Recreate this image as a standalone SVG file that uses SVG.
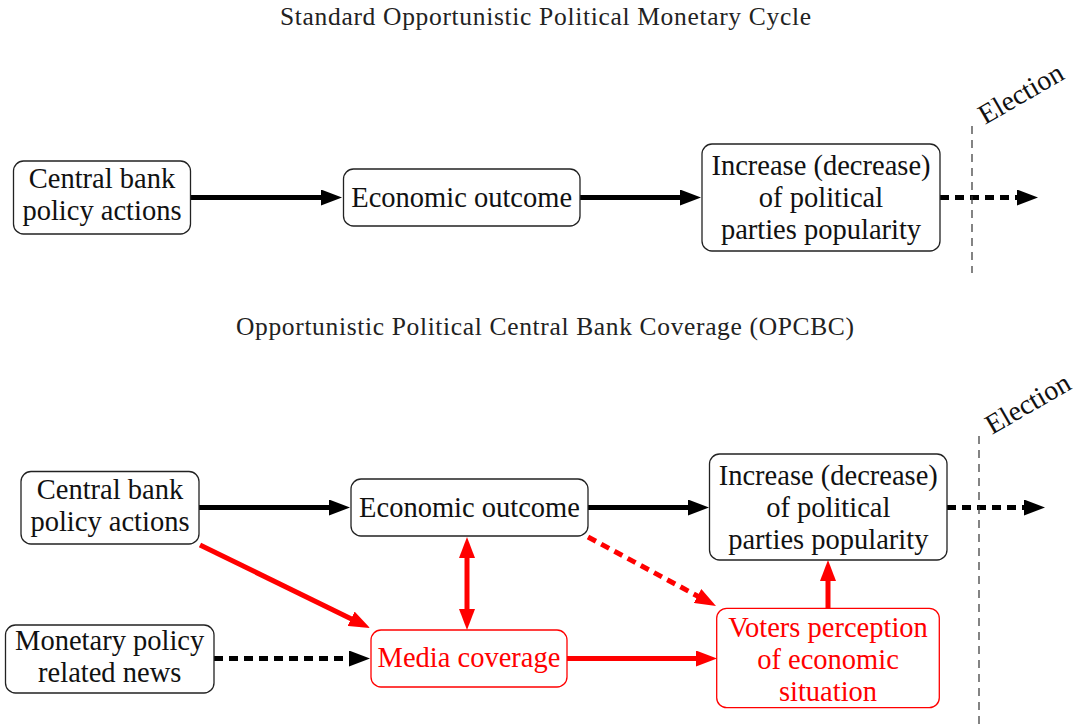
<svg xmlns="http://www.w3.org/2000/svg" width="1075" height="726" viewBox="0 0 1075 726">
<style>
.t{font-family:"Liberation Serif","Times New Roman",serif;font-size:25.5px;fill:#222;text-anchor:middle;}
.n{font-family:"Liberation Serif","Times New Roman",serif;font-size:28.5px;fill:#111;text-anchor:middle;}
.r{fill:#ff0000;}
.box{fill:#fff;stroke:#222;stroke-width:1.3;}
.rbox{fill:#fff;stroke:#ff0000;stroke-width:1.3;}
.k{stroke:#000;stroke-width:5;fill:none;}
.red{stroke:#ff0000;stroke-width:5;fill:none;}
.dot{stroke-dasharray:9 6;}
.vd{stroke:#333;stroke-width:1.2;stroke-dasharray:8 6;fill:none;}
.el{font-family:"Liberation Serif","Times New Roman",serif;font-size:28px;fill:#111;text-anchor:start;}
</style>
<defs>
<marker id="ak" viewBox="0 0 21 16" markerWidth="21" markerHeight="16" refX="1" refY="8" orient="auto-start-reverse" markerUnits="userSpaceOnUse"><path d="M0,0 L21,8 L0,16 z" fill="#000"/></marker>
<marker id="ar" viewBox="0 0 21 16" markerWidth="21" markerHeight="16" refX="1" refY="8" orient="auto-start-reverse" markerUnits="userSpaceOnUse"><path d="M0,0 L21,8 L0,16 z" fill="#ff0000"/></marker>
</defs>

<text class="t" x="545.5" y="25" textLength="531" lengthAdjust="spacing">Standard Opportunistic Political Monetary Cycle</text>
<text class="t" x="545" y="335" textLength="618" lengthAdjust="spacing">Opportunistic Political Central Bank Coverage (OPCBC)</text>

<g id="connectors">
<line class="k" x1="191" y1="197.5" x2="322" y2="197.5" marker-end="url(#ak)"/>
<line class="k" x1="580" y1="197.5" x2="681" y2="197.5" marker-end="url(#ak)"/>
<line class="k dot" x1="940" y1="197.5" x2="1018" y2="197.5" marker-end="url(#ak)"/>
<line class="vd" x1="972" y1="126" x2="972" y2="273"/>

<line class="k" x1="199" y1="507.5" x2="330" y2="507.5" marker-end="url(#ak)"/>
<line class="k" x1="588" y1="507.5" x2="689" y2="507.5" marker-end="url(#ak)"/>
<line class="k dot" x1="947" y1="507.5" x2="1025" y2="507.5" marker-end="url(#ak)"/>
<line class="vd" x1="979" y1="436" x2="979" y2="726"/>

<line class="k dot" x1="214" y1="658.5" x2="350" y2="658.5" marker-end="url(#ak)"/>
<line class="red" x1="567" y1="658.5" x2="697" y2="658.5" marker-end="url(#ar)"/>
<line class="red" x1="200" y1="545" x2="352" y2="619.2" marker-end="url(#ar)"/>
<line class="red" x1="467" y1="557" x2="467" y2="610" marker-start="url(#ar)" marker-end="url(#ar)"/>
<line class="red dot" x1="588" y1="537" x2="698.4" y2="596.5" marker-end="url(#ar)"/>
<line class="red" x1="828" y1="608" x2="828" y2="580" marker-end="url(#ar)"/>
</g>

<g id="election-top"><text class="el" x="985" y="125" transform="rotate(-30 985 125)">Election</text></g>
<g id="election-bottom"><text class="el" x="992" y="435" transform="rotate(-30 992 435)">Election</text></g>

<g id="cb1">
<rect class="box" x="13.5" y="161" width="177" height="73" rx="10"/>
<text class="n" x="102" y="188">Central bank</text>
<text class="n" x="102" y="220">policy actions</text>
</g>
<g id="eo1">
<rect class="box" x="343.5" y="169" width="236.5" height="57" rx="10"/>
<text class="n" x="461.7" y="206.5">Economic outcome</text>
</g>
<g id="pop1">
<rect class="box" x="702" y="144" width="238" height="107" rx="10"/>
<text class="n" x="821" y="174.5">Increase (decrease)</text>
<text class="n" x="821" y="206.5">of political</text>
<text class="n" x="821" y="238.5">parties popularity</text>
</g>

<g id="cb2">
<rect class="box" x="21" y="471.5" width="178" height="72.5" rx="10"/>
<text class="n" x="110" y="498.5">Central bank</text>
<text class="n" x="110" y="530.5">policy actions</text>
</g>
<g id="eo2">
<rect class="box" x="351" y="479" width="237" height="57" rx="10"/>
<text class="n" x="469.5" y="516.5">Economic outcome</text>
</g>
<g id="pop2">
<rect class="box" x="709.5" y="454" width="237.5" height="106" rx="10"/>
<text class="n" x="828.3" y="485">Increase (decrease)</text>
<text class="n" x="828.3" y="517">of political</text>
<text class="n" x="828.3" y="549">parties popularity</text>
</g>
<g id="news">
<rect class="box" x="5.5" y="625" width="208.5" height="68" rx="10"/>
<text class="n" x="109.7" y="649.5">Monetary policy</text>
<text class="n" x="109.7" y="681.5">related news</text>
</g>
<g id="media">
<rect class="rbox" x="371" y="630" width="196" height="57" rx="10"/>
<text class="n r" x="469" y="667">Media coverage</text>
</g>
<g id="voters">
<rect class="rbox" x="716.7" y="608.3" width="222.6" height="99.4" rx="10"/>
<text class="n r" x="828" y="637">Voters perception</text>
<text class="n r" x="828" y="669">of economic</text>
<text class="n r" x="828" y="701">situation</text>
</g>
</svg>
